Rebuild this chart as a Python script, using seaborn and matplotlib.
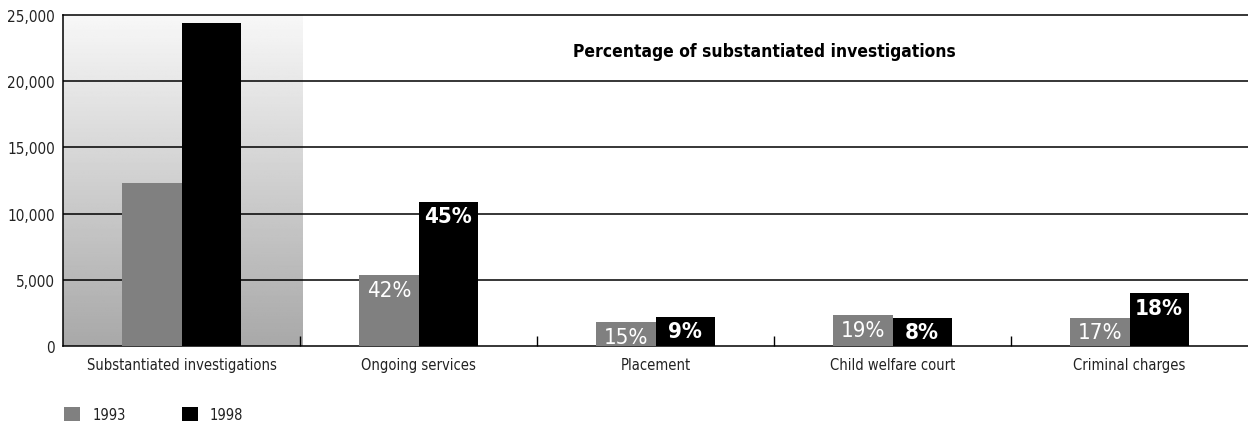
import matplotlib
matplotlib.use("Agg")
import matplotlib.pyplot as plt
import matplotlib.ticker as mticker
from matplotlib.patches import Patch
import numpy as np
import pandas as pd
import seaborn as sns

categories = ["Substantiated investigations", "Ongoing services", "Placement",
              "Child welfare court", "Criminal charges"]
years = ["1993", "1998"]
values_1993 = [12300, 5350, 1800, 2340, 2150]
values_1998 = [24400, 10900, 2200, 2150, 4000]
pct_1993 = ["", "42%", "15%", "19%", "17%"]
pct_1998 = ["", "45%", "9%", "8%", "18%"]
yticks = [0, 5000, 10000, 15000, 20000, 25000]
title = "Percentage of substantiated investigations"

sns.set_theme(style="white")
plt.rcParams["font.family"] = ["DejaVu Sans"]
plt.rcParams["font.stretch"] = "condensed"

df = pd.DataFrame({
    "category": categories * 2,
    "year": [years[0]] * len(categories) + [years[1]] * len(categories),
    "value": values_1993 + values_1998,
})
colors = {"1993": "#808080", "1998": "#000000"}

fig = plt.figure(figsize=(12.48, 4.27), dpi=100)
ax = fig.add_axes([0.0505, 0.1874, 0.9495, 0.7751])

grad = np.linspace(0.97, 0.66, 256).reshape(-1, 1)
ax.imshow(grad, cmap="gray", vmin=0, vmax=1, aspect="auto",
          extent=(-0.5, 0.51, 0, 25000), zorder=0, origin="upper")

sns.barplot(data=df, x="category", y="value", hue="year", palette=colors,
            width=0.5, gap=0, saturation=1, ax=ax, legend=False, zorder=3,
            linewidth=0)

ax.set_xlim(-0.5, 4.5)
ax.set_ylim(0, 25000)
ax.set_yticks(yticks)
ax.yaxis.set_major_formatter(mticker.FuncFormatter(lambda v, p: f"{int(v):,}"))
for y in yticks[1:-1]:
    ax.axhline(y, color="black", lw=1.1, zorder=1)

for s in ["top", "left", "bottom"]:
    ax.spines[s].set_visible(True)
    ax.spines[s].set_color("black")
    ax.spines[s].set_linewidth(1.1)
ax.spines["right"].set_visible(False)
ax.spines["top"].set_zorder(4)

ax.set_xlabel("")
ax.set_ylabel("")
ax.tick_params(axis="y", length=0, labelsize=11, labelcolor="#222222", pad=6)
ax.tick_params(axis="x", which="major", length=0, labelsize=10.5,
               labelcolor="#222222", pad=8)
ax.set_xticks(np.arange(0.5, 4, 1), minor=True)
ax.tick_params(axis="x", which="minor", direction="in", length=7, width=1,
               color="black")
ax.xaxis.set_tick_params(which="minor", bottom=True)

for i in range(len(categories)):
    for j, (vals, pcts, wt) in enumerate([(values_1993, pct_1993, "normal"),
                                          (values_1998, pct_1998, "bold")]):
        if pcts[i]:
            x = i + (-0.125 if j == 0 else 0.125)
            ax.annotate(pcts[i], xy=(x, vals[i]), xytext=(0, -10.5),
                        textcoords="offset points", ha="center", va="center",
                        color="white", fontsize=16, fontweight=wt, zorder=5,
                        annotation_clip=False)

ax.text(0.592, 0.891, title, transform=ax.transAxes, ha="center", va="center",
        fontsize=12.5, fontweight="bold", color="black")

handles = [Patch(facecolor=colors[y], edgecolor="none", label=y) for y in years]
fig.legend(handles=handles, loc="lower left", bbox_to_anchor=(0.041, -0.022),
           ncol=2, frameon=False, handlelength=1.1, handleheight=1.1,
           columnspacing=3.8, handletextpad=0.85, fontsize=10.5,
           labelcolor="#222222")

fig.savefig("out.png", dpi=100)
